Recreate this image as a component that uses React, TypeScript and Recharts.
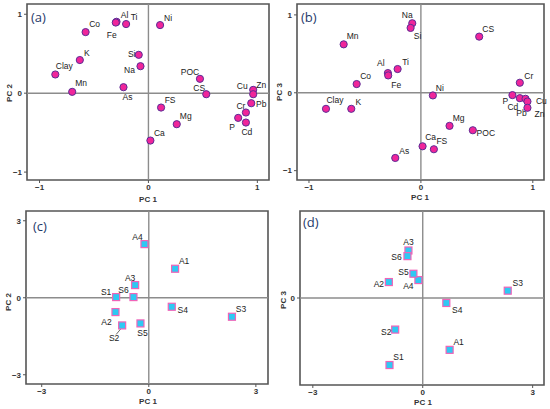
import React from 'react';
import { ScatterChart, Scatter, XAxis, YAxis, ReferenceLine, ReferenceArea } from 'recharts';

const FONT = '"Liberation Sans", Arial, sans-serif';

// ---------- Panel (a): loadings PC1 vs PC2 ----------
const aLabels = ['Clay', 'Mn', 'K', 'Co', 'Al', 'Fe', 'Ti', 'Ni', 'Si', 'Na', 'As', 'POC', 'CS', 'FS', 'Mg', 'Ca', 'Cu', 'Zn', 'Pb', 'Cr', 'P', 'Cd'];
const aPC1 = [-0.855, -0.7, -0.63, -0.577, -0.293, -0.3, -0.205, 0.107, -0.089, -0.073, -0.229, 0.473, 0.531, 0.116, 0.26, 0.018, 0.962, 0.962, 0.944, 0.895, 0.824, 0.895];
const aPC2 = [0.237, 0.017, 0.42, 0.774, 0.905, 0.895, 0.876, 0.863, 0.486, 0.342, 0.076, 0.182, -0.013, -0.182, -0.393, -0.6, 0.042, -0.013, -0.127, -0.245, -0.313, -0.372];

// ---------- Panel (b): loadings PC1 vs PC3 ----------
const bLabels = ['Na', 'Si', 'Mn', 'CS', 'Al', 'Fe', 'Ti', 'Co', 'Ni', 'Clay', 'K', 'Cr', 'P', 'Cd', 'Pb', 'Cu', 'Zn', 'Mg', 'POC', 'Ca', 'FS', 'As'];
const bPC1 = [-0.077, -0.092, -0.69, 0.521, -0.295, -0.292, -0.208, -0.574, 0.107, -0.848, -0.622, 0.884, 0.818, 0.884, 0.935, 0.952, 0.952, 0.256, 0.464, 0.015, 0.116, -0.229];
const bPC3 = [0.893, 0.833, 0.622, 0.721, 0.253, 0.223, 0.305, 0.112, -0.034, -0.206, -0.206, 0.129, -0.03, -0.069, -0.077, -0.112, -0.193, -0.425, -0.481, -0.687, -0.725, -0.837];

// ---------- Panels (c), (d): sample scores ----------
const sLabels = ['A1', 'A2', 'A3', 'A4', 'S1', 'S2', 'S3', 'S4', 'S5', 'S6'];
const cPC1 = [0.737, -0.933, -0.382, -0.121, -0.914, -0.746, 2.33, 0.644, -0.233, -0.429];
const cPC2 = [1.13, -0.558, 0.494, 2.09, 0.026, -1.078, -0.74, -0.351, -1.0, 0.026];
const dPC1 = [0.734, -0.925, -0.39, -0.118, -0.907, -0.752, 2.32, 0.644, -0.254, -0.417];
const dPC3 = [-2.026, 0.623, 1.857, 0.701, -2.62, -1.234, 0.286, -0.195, 0.948, 1.636];

// tick labels
const loadTicks = [-1, 0, 1];
const scoreTicks = [-3, 0, 3];
const scoreTicksD = [0];

// label placement (px offsets of label centre from marker centre)
const placeA: Record<string, [number, number]> = {
  Clay: [9, -8], Mn: [9, -9], K: [7, -7], Co: [9, -8], Al: [8, -7], Fe: [-4, 12], Ti: [8, -7], Ni: [8, -7],
  Si: [-7, -1], Na: [-11, 4], As: [4, 10], POC: [-10, -7], CS: [-7, -6], FS: [9, -8], Mg: [9, -8], Ca: [9, -8],
  Cu: [-11, -4], Zn: [8, -9], Pb: [10, 1], Cr: [-5, -7], P: [-6, 9], Cd: [1, 9],
};
const placeB: Record<string, [number, number]> = {
  Na: [-5, -8], Si: [7, 8], Mn: [9, -8], CS: [9, -8], Al: [-7, -10], Fe: [8, 10], Ti: [8, -7], Co: [9, -8],
  Ni: [7, -7], Clay: [9, -9], K: [7, -7], Cr: [9, -7], P: [-7, 6], Cd: [-7, 9], Pb: [-4, 14], Cu: [14, -1],
  Zn: [12, 6], Mg: [9, -8], POC: [13, 3], Ca: [8, -9], FS: [8, -8], As: [9, -7],
};
const placeC: Record<string, [number, number]> = {
  A1: [9, -8], A2: [-9, 10], A3: [-5, -7], A4: [-7, -7], S1: [-10, -5], S2: [-8, 13], S3: [9, -8], S4: [11, 3], S5: [2, 10], S6: [-10, -7],
};
const placeD: Record<string, [number, number]> = {
  A1: [9, -8], A2: [-10, 2], A3: [0, -8], A4: [-10, 6], S1: [9, -8], S2: [-9, 2], S3: [10, -8], S4: [11, 7], S5: [-10, -2], S6: [-11, 1],
};
const leadersC = ['S2'];

const build = (labels: string[], xs: number[], ys: number[]) => labels.map((n, i) => ({ name: n, x: xs[i], y: ys[i] }));

const fmt = (v: number) => String(v).replace('-', '\u2212');

type PanelProps = {
  left: number; top: number;
  plot: { l: number; t: number; w: number; h: number };
  xDomain: [number, number]; yDomain: [number, number];
  xTicks: number[]; yTicks: number[];
  data: { name: string; x: number; y: number }[];
  place: Record<string, [number, number]>;
  leaders?: string[];
  square?: boolean;
  letter: string; letterPos: [number, number];
  xTitle: string; xTitlePos: [number, number];
  yTitle: string; yTitlePos: [number, number];
};

const W = 275;
const H = 205;
const XAH = 12; // x axis band height
const YAW = 14; // y axis band width

function Panel(p: PanelProps) {
  const shape = (props: any) => {
    const { cx, cy, payload } = props;
    const off = p.place[payload.name] || [8, -8];
    const lx = cx + off[0];
    const ly = cy + off[1];
    const leader = p.leaders && p.leaders.includes(payload.name);
    return (
      <g>
        {leader ? <line x1={lx + 2} y1={ly - 4} x2={cx - 1} y2={cy + 3} stroke="#444" strokeWidth={0.8} /> : null}
        {p.square ? (
          <rect x={cx - 3.5} y={cy - 3.5} width={7} height={7} fill="#2ec9f3" stroke="#f064b8" strokeWidth={1.2} />
        ) : (
          <circle cx={cx} cy={cy} r={3.6} fill="#f0259a" stroke="#5c2c96" strokeWidth={1} />
        )}
        <text x={lx} y={ly} textAnchor="middle" dominantBaseline="central" fontSize={8.5} fontFamily={FONT} fill="#222">
          {payload.name}
        </text>
      </g>
    );
  };
  const tickStyle = { fontSize: 8, fontWeight: 'bold' as const, fill: '#333', fontFamily: FONT };
  return (
    <div style={{ position: 'absolute', left: p.left, top: p.top, width: W, height: H }}>
      <ScatterChart
        width={W}
        height={H}
        margin={{
          top: p.plot.t,
          left: p.plot.l - YAW,
          right: W - p.plot.l - p.plot.w,
          bottom: H - p.plot.t - p.plot.h - XAH,
        }}
      >
        <XAxis
          type="number" dataKey="x" domain={p.xDomain} ticks={p.xTicks} height={XAH}
          axisLine={false} tickLine={{ stroke: '#555' }} tickSize={3} tickMargin={1}
          tick={tickStyle} tickFormatter={fmt} interval={0}
        />
        <YAxis
          type="number" dataKey="y" domain={p.yDomain} ticks={p.yTicks} width={YAW}
          axisLine={false} tickLine={{ stroke: '#555' }} tickSize={3} tickMargin={2}
          tick={tickStyle} tickFormatter={fmt} interval={0}
        />
        <ReferenceArea
          x1={p.xDomain[0]} x2={p.xDomain[1]} y1={p.yDomain[0]} y2={p.yDomain[1]}
          fill="none" fillOpacity={0} stroke="#555" strokeWidth={1.6} ifOverflow="visible"
        />
        <ReferenceLine x={0} stroke="#8c8c8c" strokeWidth={1.4} />
        <ReferenceLine y={0} stroke="#8c8c8c" strokeWidth={1.4} />
        <Scatter data={p.data} isAnimationActive={false} shape={shape} />
      </ScatterChart>
      <div style={{ position: 'absolute', left: p.letterPos[0], top: p.letterPos[1], fontSize: 13, fontFamily: '"Open Sans", "Noto Sans", sans-serif', color: '#1f3a6b', lineHeight: '14px' }}>
        {p.letter}
      </div>
      <div style={{ position: 'absolute', left: p.xTitlePos[0] - 20, top: p.xTitlePos[1] - 5, width: 40, textAlign: 'center', fontSize: 8, fontWeight: 'bold', fontFamily: FONT, color: '#333', lineHeight: '10px' }}>
        {p.xTitle}
      </div>
      <div style={{ position: 'absolute', left: p.yTitlePos[0] - 20, top: p.yTitlePos[1] - 5, width: 40, textAlign: 'center', fontSize: 8, fontWeight: 'bold', fontFamily: FONT, color: '#333', lineHeight: '10px', transform: 'rotate(-90deg)' }}>
        {p.yTitle}
      </div>
    </div>
  );
}

export default function App() {
  return (
    <div style={{ position: 'absolute', left: 0, top: 0, width: 550, height: 409, background: '#fff', fontFamily: FONT }}>
      <Panel
        left={0} top={0}
        plot={{ l: 27, t: 4, w: 242, h: 176 }}
        xDomain={[-1.115, 1.107]} yDomain={[-1.1, 1.13]}
        xTicks={loadTicks} yTicks={loadTicks}
        data={build(aLabels, aPC1, aPC2)} place={placeA}
        letter="(a)" letterPos={[31, 10]}
        xTitle="PC 1" xTitlePos={[148, 200]}
        yTitle="PC 2" yTitlePos={[10, 93]}
      />
      <Panel
        left={275} top={0}
        plot={{ l: 22, t: 4, w: 247, h: 176 }}
        xDomain={[-1.107, 1.1]} yDomain={[-1.12, 1.14]}
        xTicks={loadTicks} yTicks={loadTicks}
        data={build(bLabels, bPC1, bPC3)} place={placeB}
        letter="(b)" letterPos={[26, 10]}
        xTitle="PC 1" xTitlePos={[145, 198]}
        yTitle="PC 3" yTitlePos={[5, 92]}
      />
      <Panel
        left={0} top={205}
        plot={{ l: 26, t: 6, w: 242, h: 173 }}
        xDomain={[-3.44, 3.34]} yDomain={[-3.36, 3.38]}
        xTicks={scoreTicks} yTicks={scoreTicks}
        data={build(sLabels, cPC1, cPC2)} place={placeC} leaders={leadersC} square
        letter="(c)" letterPos={[33, 14]}
        xTitle="PC 1" xTitlePos={[148, 197]}
        yTitle="PC 2" yTitlePos={[9, 97]}
      />
      <Panel
        left={275} top={205}
        plot={{ l: 25, t: 6, w: 244, h: 174 }}
        xDomain={[-3.35, 3.31]} yDomain={[-3.4, 3.4]}
        xTicks={scoreTicks} yTicks={scoreTicksD}
        data={build(sLabels, dPC1, dPC3)} place={placeD} square
        letter="(d)" letterPos={[28, 10]}
        xTitle="PC 1" xTitlePos={[148, 198]}
        yTitle="PC 3" yTitlePos={[9, 95]}
      />
    </div>
  );
}
